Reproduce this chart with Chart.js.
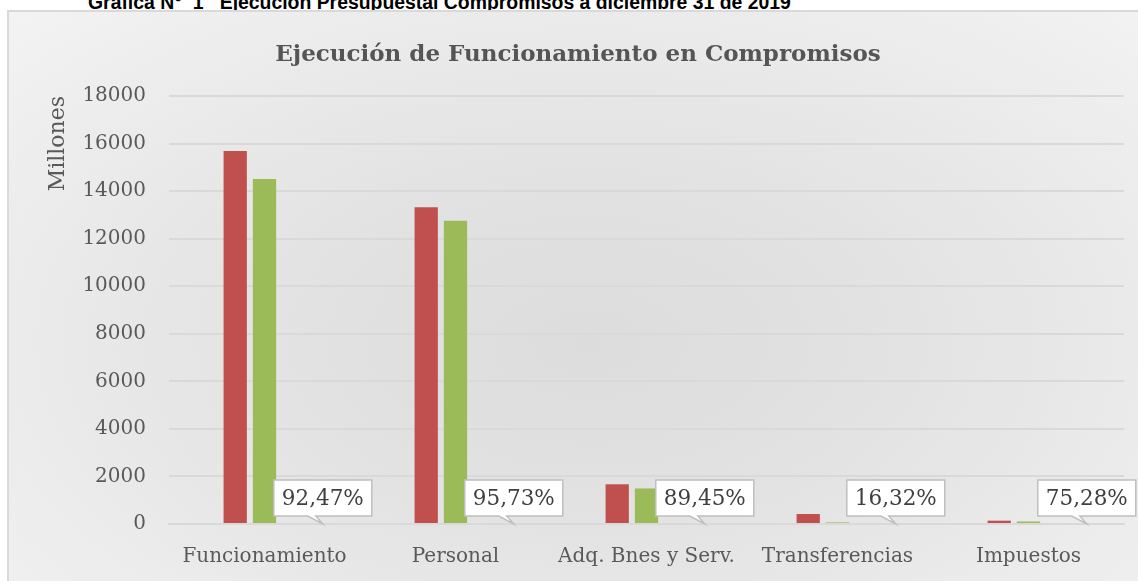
<!DOCTYPE html>
<html>
<head>
<meta charset="utf-8">
<script src="https://cdn.jsdelivr.net/npm/chart.js@4.4.0/dist/chart.umd.min.js"></script>
<style>
html, body { margin: 0; padding: 0; width: 1138px; height: 581px; overflow: hidden; background: #fff; }
#frame {
    position: absolute; left: 7px; top: 10px; width: 1160px; height: 600px;
    border-left: 2px solid #d9d9d9; border-top: 2px solid #d9d9d9;
    background: radial-gradient(ellipse at 50% 55%, #dcdcdc 0%, #e3e3e3 40%, #f3f3f3 100%);
}
#hdr {
    position: absolute; left: 88px; top: -9px; line-height: 20px;
    font: bold 19.4px "Liberation Sans Narrow", "Arial Narrow", sans-serif;
    white-space: pre; color: #000;
}
#wrap { position: absolute; left: 0; top: 0; width: 1138px; height: 581px; }
</style>
</head>
<body>
<div id="hdr">Gráfica N°  1   Ejecución Presupuestal Compromisos a diciembre 31 de 2019</div>
<div id="frame"></div>
<div id="wrap"><canvas id="myChart"></canvas></div>
<script>
const categorias = ['Funcionamiento', 'Personal', 'Adq. Bnes y Serv.', 'Transferencias', 'Impuestos'];
const apropiacion = [15690, 13320, 1670, 420, 140];
const compromisos = [14508, 12751, 1494, 69, 105];
const ejecucion = [0.9247, 0.9573, 0.8945, 0.1632, 0.7528];
const tituloGrafica = 'Ejecución de Funcionamiento en Compromisos';
const tituloEje = 'Millones';

const serifFont = '"DejaVu Serif", serif';

// title drawn by hand so it sits where Excel puts it
const titlePlugin = {
    id: 'tituloFijo',
    afterDraw(chart) {
        const ctx = chart.ctx;
        ctx.save();
        ctx.font = 'bold 23px ' + serifFont;
        ctx.fillStyle = '#555555';
        ctx.textAlign = 'center';
        ctx.textBaseline = 'alphabetic';
        ctx.fillText(tituloGrafica, 578, 61);
        ctx.restore();
    }
};

// callout labels for the percentage series
const calloutPlugin = {
    id: 'callouts',
    afterDatasetsDraw(chart) {
        const ctx = chart.ctx;
        const meta = chart.getDatasetMeta(2);
        ctx.save();
        ctx.font = '21.5px ' + serifFont;
        meta.data.forEach((bar, i) => {
            const txt = (ejecucion[i] * 100).toFixed(2).replace('.', ',') + '%';
            const tipX = bar.x + 29;
            const tipY = bar.y;
            const w = ctx.measureText(txt).width + 16;
            const h = 36;
            const bottom = tipY - 8;
            const top = bottom - h;
            const left = tipX - w / 2;
            const right = tipX + w / 2;

            ctx.beginPath();
            ctx.moveTo(left, top);
            ctx.lineTo(right, top);
            ctx.lineTo(right, bottom);
            ctx.lineTo(tipX - 7, bottom);
            ctx.lineTo(tipX, tipY);
            ctx.lineTo(tipX - 15, bottom);
            ctx.lineTo(left, bottom);
            ctx.closePath();
            ctx.fillStyle = '#ffffff';
            ctx.fill();
            ctx.lineWidth = 1.5;
            ctx.strokeStyle = '#bfbfbf';
            ctx.stroke();

            ctx.fillStyle = '#404040';
            ctx.textAlign = 'center';
            ctx.textBaseline = 'middle';
            ctx.fillText(txt, tipX, (top + bottom) / 2 + 1);
        });
        ctx.restore();
    }
};

const data = {
    labels: categorias,
    datasets: [{
        label: 'Apropiación',
        backgroundColor: '#C0504D',
        data: apropiacion,
    }, {
        label: 'Compromisos',
        backgroundColor: '#9BBB59',
        data: compromisos,
    }, {
        label: '% Ejecución',
        backgroundColor: 'rgba(0,0,0,0)',
        data: ejecucion,
    }]
};

const config = {
    type: 'bar',
    data,
    plugins: [titlePlugin, calloutPlugin],
    options: {
        responsive: true,
        maintainAspectRatio: false,
        animation: false,
        categoryPercentage: 0.46,
        barPercentage: 0.795,
        layout: { padding: { left: 0, right: 14, top: 96, bottom: 7 } },
        plugins: {
            legend: { display: false },
            tooltip: { enabled: false }
        },
        scales: {
            x: {
                grid: { display: false, drawTicks: false },
                border: { color: '#d9d9d9', width: 2 },
                ticks: { color: '#595959', font: { family: serifFont, size: 20 }, padding: 21, maxRotation: 0 },
                afterFit(scale) { scale.height = 50; }
            },
            y: {
                min: 0,
                max: 18000,
                grid: { color: '#d9d9d9', lineWidth: 2, drawTicks: false },
                border: { display: false },
                ticks: {
                    stepSize: 2000, color: '#595959', font: { family: serifFont, size: 20 }, padding: 23,
                    callback: (v) => String(v)
                },
                title: {
                    display: true,
                    text: tituloEje,
                    align: 'end',
                    color: '#595959',
                    font: { family: serifFont, size: 22 },
                    padding: { top: 45, bottom: 0 }
                },
                afterFit(scale) { scale.width = 169; }
            }
        }
    }
};

new Chart(document.getElementById('myChart'), config);
</script>
</body>
</html>
